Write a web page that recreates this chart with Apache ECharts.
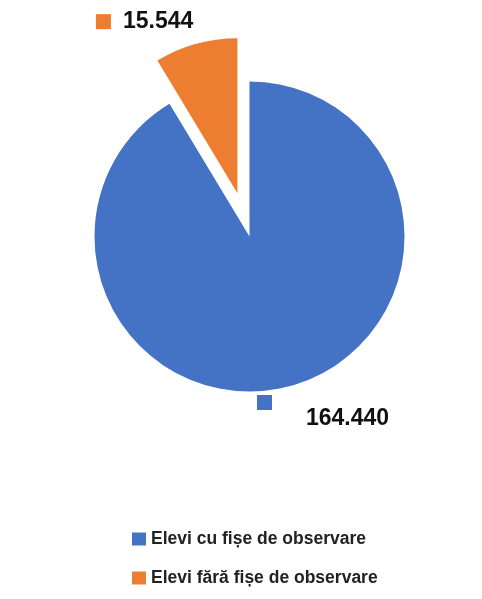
<!DOCTYPE html>
<html><head><meta charset="utf-8">
<script src="https://cdn.jsdelivr.net/npm/echarts@6/dist/echarts.min.js"></script>
<style>html,body{margin:0;padding:0;background:#fff}#c{width:482px;height:599px}</style>
</head><body><div id="c"></div>
<script>
const categories = ['Elevi cu fișe de observare', 'Elevi fără fișe de observare'];
const values = [164440, 15544];
const valueLabels = ['164.440', '15.544'];
const colors = ['#4472C4', '#ED7D31'];

const chart = echarts.init(document.getElementById('c'));
const font = '"Liberation Sans", Arial, sans-serif';
chart.setOption({
  animation: false,
  color: colors,
  legend: {
    orient: 'vertical', left: 127, top: 525,
    itemWidth: 14, itemHeight: 13, itemGap: 21,
    icon: 'rect',
    selectedMode: false,
    textStyle: { fontFamily: font, fontWeight: 'bold', fontSize: 17.5, color: '#222' },
    data: categories
  },
  series: [{
    type: 'pie',
    center: [249.5, 236.5],
    radius: [0, 155],
    startAngle: 90,
    clockwise: true,
    selectedMode: 'single',
    selectedOffset: 45,
    avoidLabelOverlap: false,
    emphasis: { disabled: true },
    label: {
      show: true, position: 'outside',
      formatter: function (p) {
        return p.dataIndex === 0 ? '{sqb|}\n{v1|' + valueLabels[0] + '}' : '{sqo|}{v2|' + valueLabels[1] + '}';
      },
      rich: {
        sqb: { width: 15, height: 15, backgroundColor: colors[0], lineHeight: 15 },
        sqo: { width: 15, height: 15, backgroundColor: colors[1], verticalAlign: 'middle' },
        v1: { fontFamily: font, fontWeight: 'bold', fontSize: 23, color: '#111', lineHeight: 18, padding: [0, 0, 0, 49] },
        v2: { fontFamily: font, fontWeight: 'bold', fontSize: 23, color: '#111', lineHeight: 24, padding: [0, 0, 0, 12], verticalAlign: 'middle' }
      }
    },
    labelLine: { show: false },
    labelLayout: function (p) {
      if (p.dataIndex === 0) return { x: 257, y: 395, align: 'left', verticalAlign: 'top' };
      return {};
    },
    data: categories.map((n, i) => {
      const d = { name: n, value: values[i], selected: i === 1 };
      if (i === 1) {
        d.label = { alignTo: 'edge', edgeDistance: 108, width: 120, overflow: 'none' };
        d.labelLine = { show: false, length: 23 };
      }
      return d;
    })
  }]
});
</script></body></html>
